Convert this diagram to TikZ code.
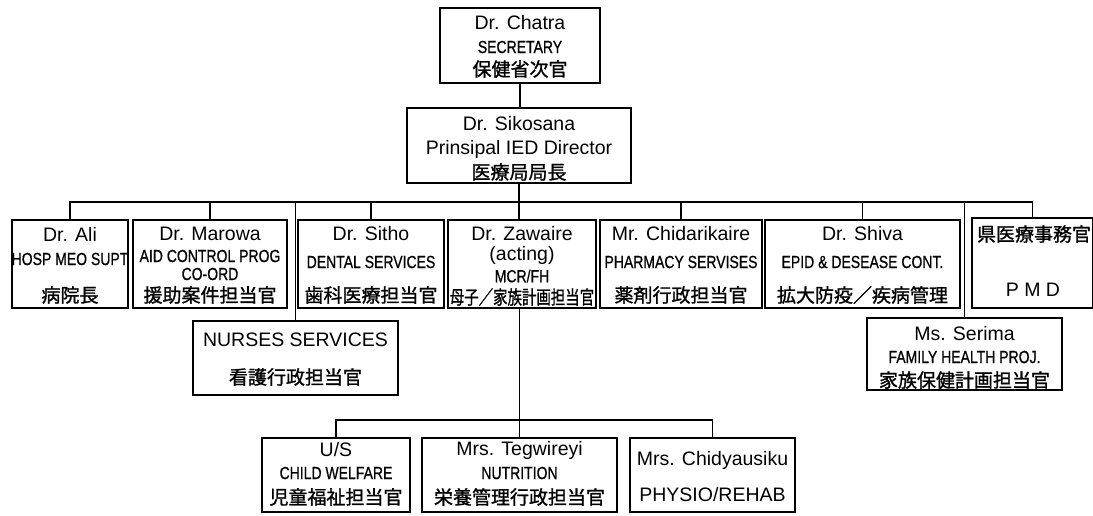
\documentclass[tikz,border=0pt]{standalone}
\usepackage{fontspec}
\usepackage{graphicx}
\setmainfont{Liberation Sans}
\newfontfamily\jpfont[FakeBold=1.2]{Noto Sans CJK JP}
\newfontfamily\rolefont[FakeBold=0.8]{Liberation Sans}
\newcommand\condtxt[1]{\scalebox{0.8}[1]{#1}}
\newcommand\jpcond[1]{\scalebox{0.76}[1]{#1}}
\tikzset{
  orgbox/.style={draw, line width=2.4pt, inner sep=0pt, outer sep=0pt},
  conn/.style={line width=1.5pt},
  nm/.style={inner sep=0pt, font=\fontsize{19.5}{21}\selectfont},
  rl/.style={inner sep=0pt, font=\rolefont\fontsize{17.5}{19}\selectfont},
  jp/.style={inner sep=0pt, font=\jpfont\fontsize{19}{21}\selectfont},
}
\begin{document}
\begin{tikzpicture}[x=1pt,y=-1pt]
\useasboundingbox[fill=white] (0,0) rectangle (1093,515);
% boxes
\node[orgbox, minimum width=160pt, minimum height=75pt] (chatra) at (520,45.5) {};
\node[orgbox, minimum width=224pt, minimum height=75pt] (sikosana) at (519,145.5) {};
\node[orgbox, minimum width=116pt, minimum height=88pt] (ali) at (70,264) {};
\node[orgbox, minimum width=154pt, minimum height=88pt] (marowa) at (210,264) {};
\node[orgbox, minimum width=146pt, minimum height=88pt] (sitho) at (371,264) {};
\node[orgbox, minimum width=148pt, minimum height=88pt] (zawaire) at (522,264) {};
\node[orgbox, minimum width=162pt, minimum height=88pt] (chidarikaire) at (681,264) {};
\node[orgbox, minimum width=195pt, minimum height=88pt] (shiva) at (862.5,264) {};
\node[orgbox, minimum width=121pt, minimum height=90pt] (pmd) at (1032.5,263) {};
\node[orgbox, minimum width=205pt, minimum height=74pt] (nurses) at (295.5,358) {};
\node[orgbox, minimum width=195pt, minimum height=72pt] (serima) at (964.5,354) {};
\node[orgbox, minimum width=148pt, minimum height=74pt] (us) at (336,475) {};
\node[orgbox, minimum width=195pt, minimum height=74pt] (teg) at (519.5,475) {};
\node[orgbox, minimum width=165pt, minimum height=74pt] (chidy) at (712.5,475) {};
% connectors
\coordinate (bus) at (520,202);
\coordinate (bus2) at (520,420);
\draw[conn] (chatra.south) -- (chatra.south |- sikosana.north);
\draw[conn] (sikosana.south) -- (sikosana.south |- zawaire.north);
\draw[conn] (ali.north) |- (bus) -| (pmd.north);
\draw[conn] (marowa.north) -- (marowa.north |- bus);
\draw[conn] (nurses.north) -- (nurses.north |- bus);
\draw[conn] (sitho.north) -- (sitho.north |- bus);
\draw[conn] (chidarikaire.north) -- (chidarikaire.north |- bus);
\draw[conn] (shiva.north) -- (shiva.north |- bus);
\draw[conn] (serima.north) -- (serima.north |- bus);
\draw[conn] (teg.north |- zawaire.south) -- (teg.north);
\draw[conn] (us.north) |- (bus2) -| (chidy.north);
% texts
\node[nm] (chatra-a) at (520,23) {Dr. Chatra};
\node[rl] (chatra-b) at (520,47) {\condtxt{SECRETARY}};
\node[jp] (chatra-c) at (520,69) {保健省次官};
\node[nm] (sikosana-a) at (519,124) {Dr. Sikosana};
\node[nm] (sikosana-b) at (519,149) {Prinsipal IED Director};
\node[jp] (sikosana-c) at (519,172) {医療局局長};
\node[nm] (ali-a) at (70,234) {Dr. Ali};
\node[rl] (ali-b) at (70,259) {\condtxt{HOSP MEO SUPT}};
\node[jp] (ali-c) at (70,295) {病院長};
\node[nm] (marowa-a) at (210,234) {Dr. Marowa};
\node[rl] (marowa-b) at (210,256) {\condtxt{AID CONTROL PROG}};
\node[rl] (marowa-c) at (210,274) {\condtxt{CO-ORD}};
\node[jp] (marowa-d) at (210,295) {援助案件担当官};
\node[nm] (sitho-a) at (371,234) {Dr. Sitho};
\node[rl] (sitho-b) at (371,262) {\condtxt{DENTAL SERVICES}};
\node[jp] (sitho-c) at (371,295) {歯科医療担当官};
\node[nm] (zawaire-a) at (522,234) {Dr. Zawaire};
\node[nm] (zawaire-b) at (522,255) {(acting)};
\node[rl] (zawaire-c) at (522,276) {\condtxt{MCR/FH}};
\node[jp] (zawaire-d) at (522,297) {\jpcond{母子／家族計画担当官}};
\node[nm] (chidarikaire-a) at (681,234) {Mr. Chidarikaire};
\node[rl] (chidarikaire-b) at (681,262) {\condtxt{PHARMACY SERVISES}};
\node[jp] (chidarikaire-c) at (681,295) {薬剤行政担当官};
\node[nm] (shiva-a) at (862.5,234) {Dr. Shiva};
\node[rl] (shiva-b) at (862.5,262) {\condtxt{EPID \& DESEASE CONT.}};
\node[jp] (shiva-c) at (862.5,295) {拡大防疫／疾病管理};
\node[jp] (pmd-a) at (1034,234) {県医療事務官};
\node[nm] (pmd-b) at (1033,290) {P M D};
\node[nm] (nurses-a) at (295.5,340) {NURSES SERVICES};
\node[jp] (nurses-b) at (295.5,377) {看護行政担当官};
\node[nm] (serima-a) at (964.5,334) {Ms. Serima};
\node[rl] (serima-b) at (964.5,357) {\condtxt{FAMILY HEALTH PROJ.}};
\node[jp] (serima-c) at (964.5,380) {家族保健計画担当官};
\node[nm] (us-a) at (336,450) {U/S};
\node[rl] (us-b) at (336,473) {\condtxt{CHILD WELFARE}};
\node[jp] (us-c) at (336,497) {児童福祉担当官};
\node[nm] (teg-a) at (519.5,450) {Mrs. Tegwireyi};
\node[rl] (teg-b) at (519.5,473) {\condtxt{NUTRITION}};
\node[jp] (teg-c) at (519.5,497) {栄養管理行政担当官};
\node[nm] (chidy-a) at (712.5,460) {Mrs. Chidyausiku};
\node[nm] (chidy-b) at (712.5,495) {PHYSIO/REHAB};
\end{tikzpicture}
\end{document}
